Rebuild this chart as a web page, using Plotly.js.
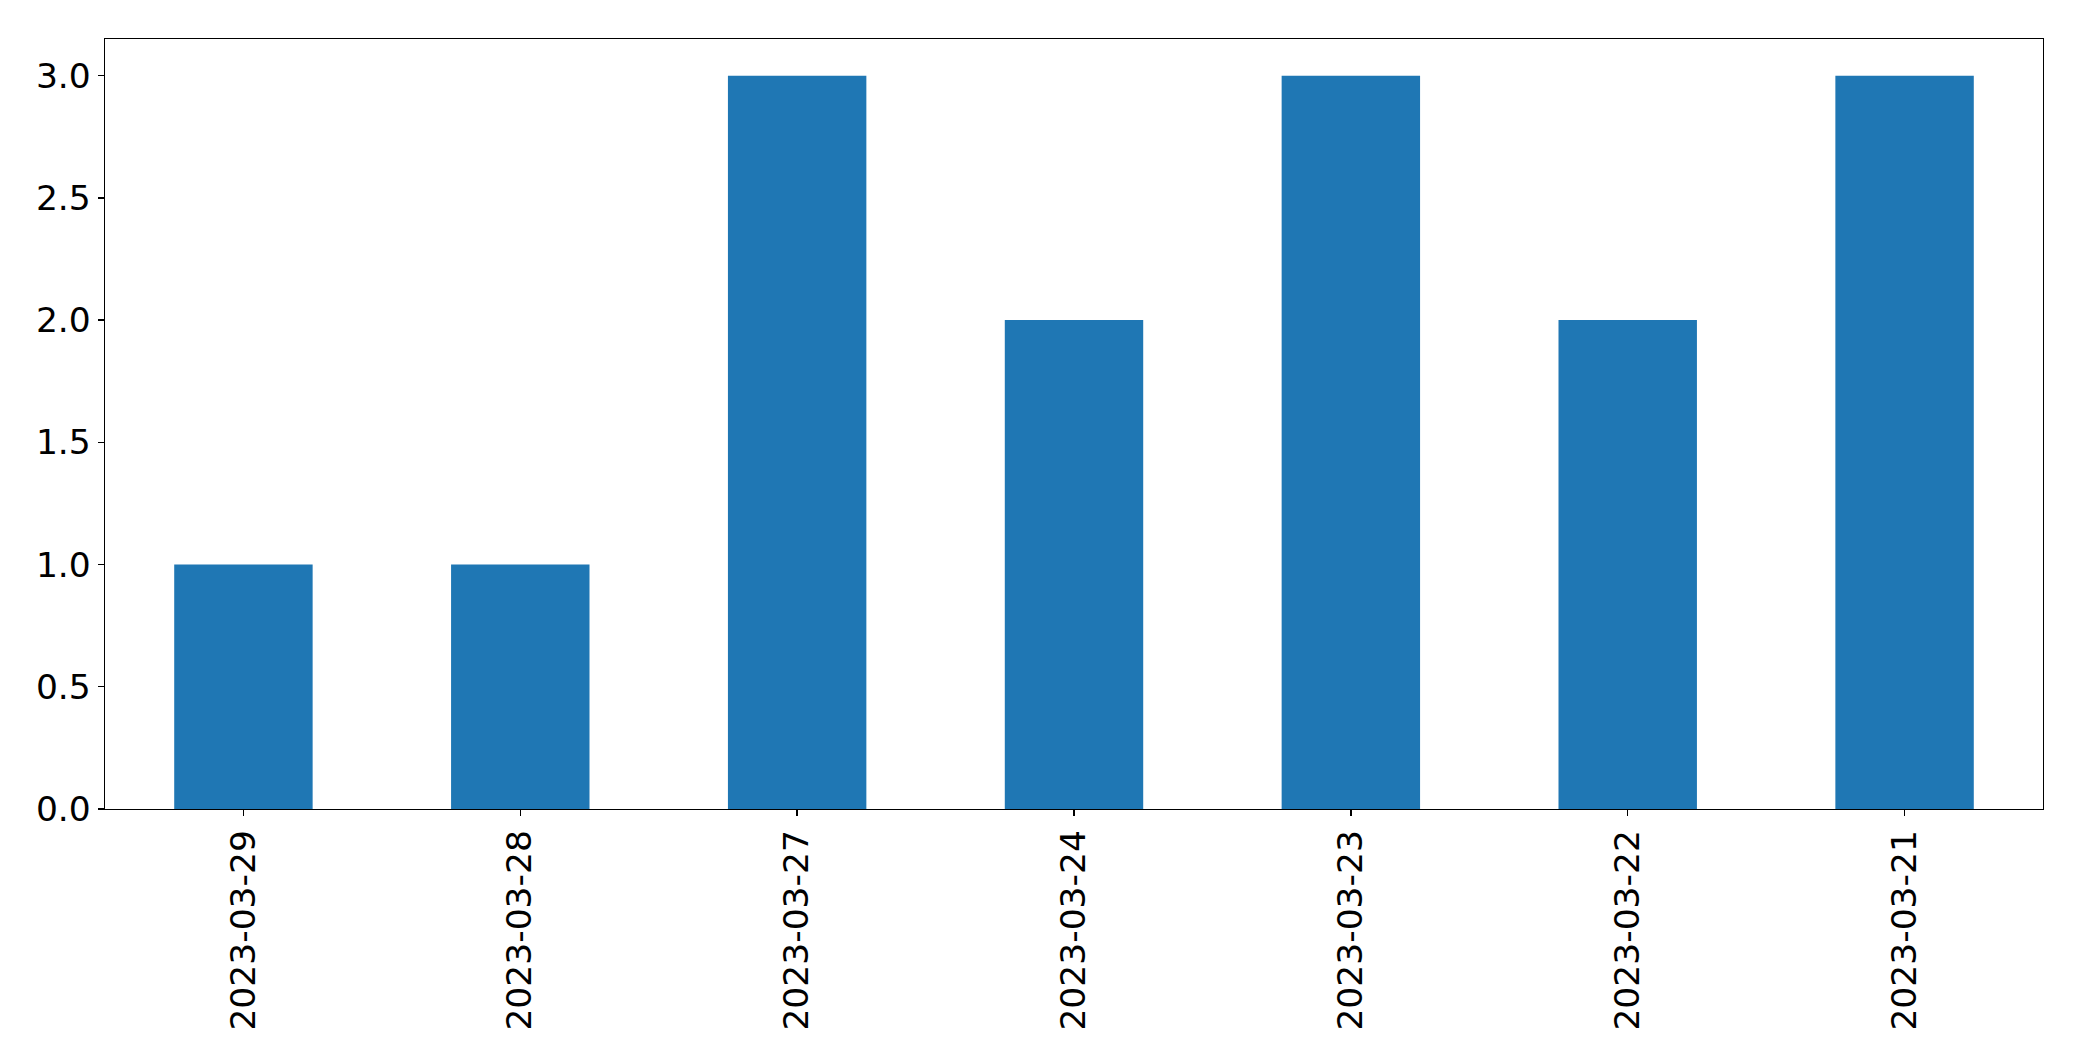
<!DOCTYPE html>
<html>
<head>
<meta charset="utf-8">
<script src="https://cdn.plot.ly/plotly-3.0.1.min.js"></script>
<style>html,body{margin:0;padding:0;background:#fff;}#chart{width:2082px;height:1061px;}</style>
</head>
<body>
<div id="chart"></div>
<script>
const dates = ["2023-03-29","2023-03-28","2023-03-27","2023-03-24","2023-03-23","2023-03-22","2023-03-21"];
const counts = [1, 1, 3, 2, 3, 2, 3];
const yTicks = [0, 0.5, 1, 1.5, 2, 2.5, 3];

const trace = {
  type: 'bar',
  x: dates,
  y: counts,
  width: 0.5,
  marker: {color: '#1f77b4', line: {width: 0}},
  hoverinfo: 'x+y'
};

const layout = {
  width: 2082,
  height: 1061,
  margin: {l: 105, r: 39, t: 39, b: 252, pad: 0},
  paper_bgcolor: '#ffffff',
  plot_bgcolor: '#ffffff',
  showlegend: false,
  font: {family: 'DejaVu Sans', size: 34.5, color: '#000000'},
  xaxis: {
    type: 'category',
    range: [-0.5, 6.5],
    tickangle: -90,
    ticks: 'outside',
    ticklen: 6,
    tickwidth: 1.3,
    tickcolor: '#000',
    showline: true,
    linecolor: '#000',
    linewidth: 1.3,
    mirror: true,
    showgrid: false,
    zeroline: false,
    tickfont: {family: 'DejaVu Sans', size: 34.5, color: '#000'}
  },
  yaxis: {
    range: [0, 3.15],
    tickvals: yTicks,
    tickformat: '.1f',
    ticks: 'outside',
    ticklen: 6,
    tickwidth: 1.3,
    tickcolor: '#000',
    showline: true,
    linecolor: '#000',
    linewidth: 1.3,
    mirror: true,
    showgrid: false,
    zeroline: false,
    tickfont: {family: 'DejaVu Sans', size: 34.5, color: '#000'}
  }
};

Plotly.newPlot('chart', [trace], layout, {displayModeBar: false, staticPlot: true});
</script>
</body>
</html>
